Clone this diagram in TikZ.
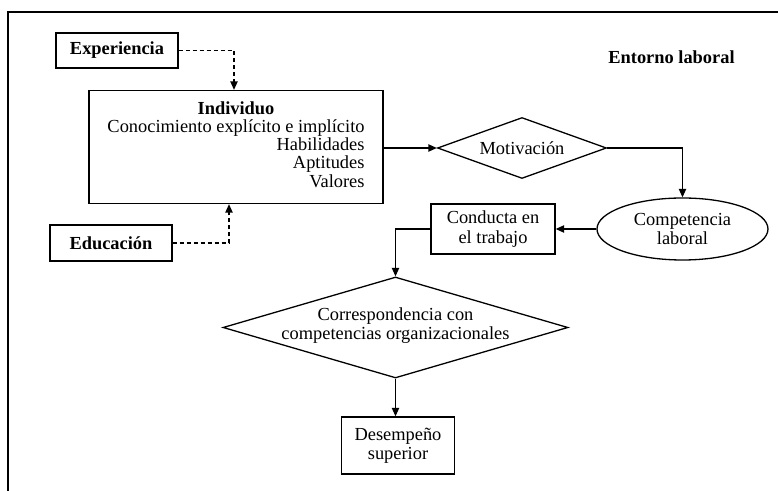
\documentclass[tikz,border=0pt]{standalone}
\usepackage{fontspec}
\setmainfont{Liberation Serif}
\usetikzlibrary{shapes.geometric,arrows.meta}
\begin{document}
\begin{tikzpicture}[x=0.5pt,y=-0.5pt,
  every node/.style={font=\fontsize{9.2pt}{9.6pt}\selectfont},
  box/.style={draw,line width=0.65pt,inner sep=0pt,align=center},
  dia/.style={draw,diamond,line width=0.65pt,inner sep=0pt},
  ell/.style={draw,ellipse,line width=0.65pt,inner sep=0pt,align=center},
  conn/.style={line width=0.65pt,-{Triangle[length=4.2pt,width=3.6pt]}},
  dconn/.style={conn,dash pattern=on 2pt off 1.5pt}]
\useasboundingbox (0,0) rectangle (778,491);
% frame
\draw[line width=1pt] (778,12) -- (8,12) -- (8,491);
\node[font=\fontsize{9.2pt}{9.6pt}\selectfont\bfseries] (ent) at (671.5,57) {Entorno laboral};
% nodes
\node[box,minimum width=61pt,minimum height=17.5pt,font=\fontsize{9.2pt}{9.6pt}\selectfont\bfseries] (exp) at (117,50.5) {Experiencia};
\node[box,minimum width=61pt,minimum height=18pt,font=\fontsize{9.2pt}{9.6pt}\selectfont\bfseries] (edu) at (111,243) {Educación};
\node[box,minimum width=147pt,minimum height=56.5pt] (ind) at (236,147) {%
  \fontsize{9.2pt}{9.15pt}\selectfont
  \begin{tabular}{@{}r@{}}
  \multicolumn{1}{@{}c@{}}{\bfseries Individuo}\\
  Conocimiento explícito e implícito\\
  Habilidades\\
  Aptitudes\\
  Valores
  \end{tabular}};
\node[dia,minimum width=84.5pt,minimum height=30.5pt] (mot) at (522,148) {};
\node (mottext) at (mot.center) {Motivación};
\node[ell,minimum width=85.5pt,minimum height=31pt] (comp) at (682.5,229) {Competencia\\laboral};
\node[box,minimum width=62pt,minimum height=25pt] (cond) at (493,229) {Conducta en\\el trabajo};
\node[dia,minimum width=172.5pt,minimum height=50.5pt] (corr) at (395.5,327.5) {};
\node[align=center] (corrtext) at ([yshift=1pt]corr.center) {Correspondencia con\\competencias organizacionales};
\node[box,minimum width=56.5pt,minimum height=28.5pt] (des) at (398,445.5) {Desempeño\\superior};
% connectors
\draw[dconn] (exp.east) -| ([xshift=-1pt]ind.north);
\draw[dconn] (edu.east) -| ([xshift=-3.5pt]ind.south);
\draw[conn] (ind.east |- mot.west) -- (mot.west);
\draw[conn] (mot.east) -| (comp.north);
\draw[conn] (comp.west) -- (cond.east);
\draw[conn] (cond.west) -| (corr.north);
\draw[conn] (corr.south) -- (corr.south |- des.north);
\end{tikzpicture}
\end{document}
